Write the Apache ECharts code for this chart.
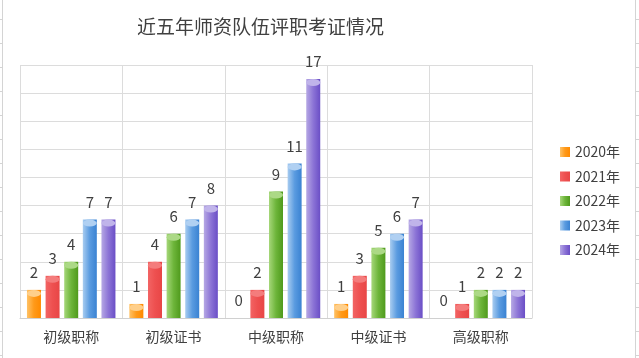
<!DOCTYPE html>
<html>
<head>
<meta charset="utf-8">
<script src="https://cdn.jsdelivr.net/npm/echarts@6/dist/echarts.min.js"></script>
<style>
html,body{margin:0;padding:0;background:#fff;}
#c{width:639px;height:358px;}
</style>
</head>
<body>
<div id="c"></div>
<script>
var titleText = '近五年师资队伍评职考证情况';
var categories = ['初级职称', '初级证书', '中级职称', '中级证书', '高级职称'];
var seriesNames = ['2020年', '2021年', '2022年', '2023年', '2024年'];
var v2020 = [2, 1, 0, 1, 0];
var v2021 = [3, 4, 2, 3, 1];
var v2022 = [4, 6, 9, 5, 2];
var v2023 = [7, 7, 11, 6, 2];
var v2024 = [7, 8, 17, 7, 2];
var yTicks = [0, 2, 4, 6, 8, 10, 12, 14, 16, 18];

var values = [v2020, v2021, v2022, v2023, v2024];
var sideColors = [
  ['#FFC266', '#FF9A1A', '#FF8A00'],
  ['#F26464', '#EE5050', '#E84646'],
  ['#A6D77A', '#6DB53A', '#4F9A1C'],
  ['#A8CCF0', '#5A9BE0', '#3A82D2'],
  ['#B6A8E4', '#8C74D6', '#6A4EC6']
];
var topColors = ['#FFCF8A', '#F47C7C', '#ACD986', '#B0D0F2', '#C0B4EA'];

function grad(c) {
  return new echarts.graphic.LinearGradient(0, 0, 1, 0, [
    {offset: 0, color: c[0]}, {offset: 0.5, color: c[1]}, {offset: 1, color: c[2]}
  ]);
}

var FONT = '"Noto Sans CJK SC", "Noto Sans", sans-serif';
var series = [];
for (var i = 0; i < 5; i++) {
  series.push({
    name: seriesNames[i],
    type: 'bar',
    barWidth: 14,
    barGap: '33%',
    data: values[i],
    itemStyle: {color: grad(sideColors[i])},
    label: {
      show: true, position: 'top', distance: 10,
      fontSize: 15, color: '#404040', fontFamily: FONT
    },
    z: 2
  });
}
for (var j = 0; j < 5; j++) {
  series.push({
    name: seriesNames[j] + '-top',
    type: 'pictorialBar',
    barWidth: 14,
    barGap: '33%',
    symbol: 'circle',
    symbolSize: [14, 7],
    symbolPosition: 'end',
    data: values[j].map(function (v) { return v === 0 ? '-' : v; }),
    itemStyle: {color: topColors[j]},
    silent: true,
    z: 3
  });
}

var leftTicks = [], rightTicks = [];
for (var k = 0; k < 15; k++) {
  var yy = 19 + k * 24 + 0.5;
  leftTicks.push({type: 'line', shape: {x1: 0, y1: yy, x2: 3, y2: yy}, style: {stroke: '#D4D4D4', lineWidth: 1}, silent: true});
  rightTicks.push({type: 'line', shape: {x1: 636, y1: yy, x2: 639, y2: yy}, style: {stroke: '#D4D4D4', lineWidth: 1}, silent: true});
}

var chart = echarts.init(document.getElementById('c'), null, {renderer: 'canvas'});
chart.setOption({
  animation: false,
  backgroundColor: '#fff',
  textStyle: {fontFamily: FONT},
  title: {
    text: titleText,
    left: 132, top: 12,
    textStyle: {fontSize: 19, fontWeight: 'normal', color: '#404040', fontFamily: FONT}
  },
  legend: {
    data: seriesNames,
    orient: 'vertical',
    left: 555, top: 140,
    itemWidth: 10, itemHeight: 10, itemGap: 10.5,
    icon: 'rect',
    textStyle: {fontSize: 14, color: '#404040', fontFamily: FONT}
  },
  grid: {left: 20, right: 107, top: 65, bottom: 40},
  xAxis: {
    type: 'category',
    data: categories,
    axisLine: {lineStyle: {color: '#D0D0D0'}},
    axisTick: {show: false},
    splitLine: {show: true, lineStyle: {color: '#DCDCDC'}},
    axisLabel: {fontSize: 14, color: '#404040', margin: 12, fontFamily: FONT}
  },
  yAxis: {
    type: 'value',
    min: yTicks[0], max: yTicks[yTicks.length - 1], interval: yTicks[1] - yTicks[0],
    axisLine: {show: false}, axisTick: {show: false}, axisLabel: {show: false},
    splitLine: {lineStyle: {color: '#DCDCDC'}}
  },
  graphic: [
    {type: 'line', shape: {x1: 2.5, y1: 0, x2: 2.5, y2: 358}, style: {stroke: '#D4D4D4', lineWidth: 1}, silent: true},
    {type: 'line', shape: {x1: 635.5, y1: 0, x2: 635.5, y2: 358}, style: {stroke: '#D4D4D4', lineWidth: 1}, silent: true}
  ].concat(leftTicks, rightTicks),
  series: series
});
</script>
</body>
</html>
